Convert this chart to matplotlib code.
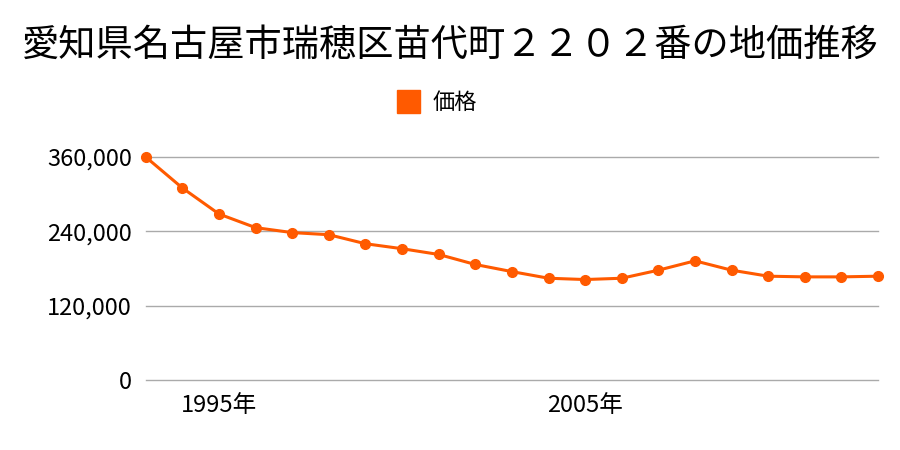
import matplotlib.pyplot as plt

plt.rcParams['font.family'] = ['Noto Sans CJK JP', 'DejaVu Sans']

# Land price data (yen / m2)
years = list(range(1993, 2014))
prices = [360000, 310000, 268000, 246000, 238000, 234600, 220000, 212000,
          202700, 186500, 175000, 164300, 162200, 164300, 177300, 192400,
          177300, 167600, 166500, 166500, 167600]

tick_years = [1995, 2005]
tick_labels = ['1995年', '2005年']
y_ticks = [0, 120000, 240000, 360000]

title = '愛知県名古屋市瑞穂区苗代町２２０２番の地価推移'
series_name = '価格'
line_color = '#ff5a00'

fig = plt.figure(figsize=(9, 4.5), dpi=100)
ax = fig.add_axes([0.162, 0.1556, 0.8136, 0.4954])

ax.plot(years, prices, '-o', color=line_color, linewidth=2.2, markersize=7,
        clip_on=False, zorder=3, label=series_name)

ax.set_xlim(years[0], years[-1])
ax.set_ylim(0, 360000)
ax.set_yticks(y_ticks)
ax.set_yticklabels(['{:,}'.format(v) for v in y_ticks])
ax.set_xticks(tick_years)
ax.set_xticklabels(tick_labels)
ax.tick_params(length=0, labelsize=17, colors='black')
ax.tick_params(axis='y', pad=10)
ax.tick_params(axis='x', pad=10)
ax.grid(axis='y', color='#aaaaaa', linewidth=1)
for gl in ax.get_ygridlines():
    gl.set_clip_on(False)
ax.set_axisbelow(True)
for s in ax.spines.values():
    s.set_visible(False)

fig.text(0.5, 0.9, title, ha='center', va='center', fontsize=26.8)

# Legend
fig.patches.append(plt.Rectangle((397 / 900, 1 - 113 / 450), 23 / 900, 23 / 450,
                                 transform=fig.transFigure, color=line_color))
fig.text(433 / 900, 1 - 102 / 450, series_name, ha='left', va='center', fontsize=16)

fig.savefig('out.png', dpi=100)
